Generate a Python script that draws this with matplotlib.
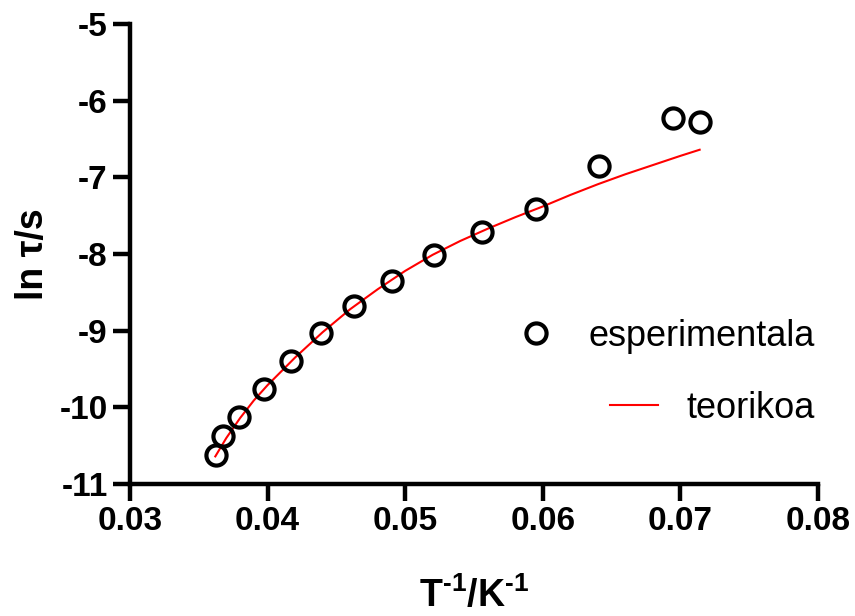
import matplotlib
matplotlib.use('Agg')
import matplotlib.pyplot as plt
from matplotlib.lines import Line2D

plt.rcParams['font.family'] = ['Liberation Sans', 'DejaVu Sans']
plt.rcParams['axes.unicode_minus'] = False
plt.rcParams['mathtext.fontset'] = 'custom'
plt.rcParams['mathtext.rm'] = 'Liberation Sans'
plt.rcParams['mathtext.bf'] = 'Liberation Sans:bold'

x_exp = [0.03625, 0.03676, 0.03792, 0.03974, 0.0417, 0.04388, 0.04628,
         0.04904, 0.05209, 0.05558, 0.0595, 0.06408, 0.06946, 0.07142]
y_exp = [-10.62, -10.37, -10.13, -9.76, -9.40, -9.03, -8.68,
         -8.35, -8.01, -7.71, -7.41, -6.85, -6.23, -6.28]

# theory curve
x_th = [0.0362, 0.037, 0.038, 0.039, 0.040, 0.042, 0.044, 0.046, 0.048, 0.050,
        0.052, 0.054, 0.056, 0.058, 0.060, 0.062, 0.064, 0.066, 0.068, 0.070, 0.0714]
y_th = [-10.64, -10.40, -10.14, -9.91, -9.71, -9.35, -9.02, -8.72, -8.46, -8.22,
        -8.01, -7.83, -7.67, -7.52, -7.38, -7.23, -7.09, -6.96, -6.84, -6.72, -6.64]

xticks = [0.03, 0.04, 0.05, 0.06, 0.07, 0.08]
yticks = [-11, -10, -9, -8, -7, -6, -5]

fig = plt.figure(figsize=(8.55, 6.16), dpi=100)
ax = fig.add_axes([130/855, 1-484/616, 688/855, 460/616])

ax.plot(x_th, y_th, color='#ff0000', lw=1.5, zorder=2)
ax.plot(x_exp, y_exp, 'o', mfc='none', mec='black', ms=14.5, mew=3, ls='none',
        zorder=3, clip_on=False)

ax.set_xlim(0.03, 0.08)
ax.set_ylim(-11, -5)
ax.set_xticks(xticks)
ax.set_xticklabels(['%.2f' % v for v in xticks])
ax.set_yticks(yticks)
ax.set_yticklabels(['%d' % v for v in yticks])

for s in ['top', 'right']:
    ax.spines[s].set_visible(False)
for s in ['left', 'bottom']:
    ax.spines[s].set_linewidth(3.2)
    ax.spines[s].set_capstyle('projecting')
ax.tick_params(which='major', length=12, width=3.2, direction='out', pad=4)
for lab in ax.get_xticklabels() + ax.get_yticklabels():
    lab.set_fontsize(24)
    lab.set_fontweight('bold')

ax.set_xlabel('$\\mathbf{T^{\u2010 1}/K^{\u2010 1}}$', fontsize=27, labelpad=28)
ax.set_ylabel('ln τ/s', fontsize=27, fontweight='bold', labelpad=6)

h1 = Line2D([], [], marker='o', mfc='none', mec='black', ms=14.5, mew=3, ls='none')
h2 = Line2D([], [], color='#ff0000', lw=1.5)
leg1 = ax.legend([h1], ['esperimentala'], loc='center right', bbox_to_anchor=(0.9956, 0.3217),
                 frameon=False, fontsize=26, handlelength=1.33, handletextpad=0.8,
                 borderpad=0, borderaxespad=0)
ax.add_artist(leg1)
ax.legend([h2], ['teorikoa'], loc='center right', bbox_to_anchor=(0.9956, 0.165),
          frameon=False, fontsize=26, handlelength=1.33, handletextpad=0.8,
          borderpad=0, borderaxespad=0)

fig.savefig('out.png', dpi=100)
